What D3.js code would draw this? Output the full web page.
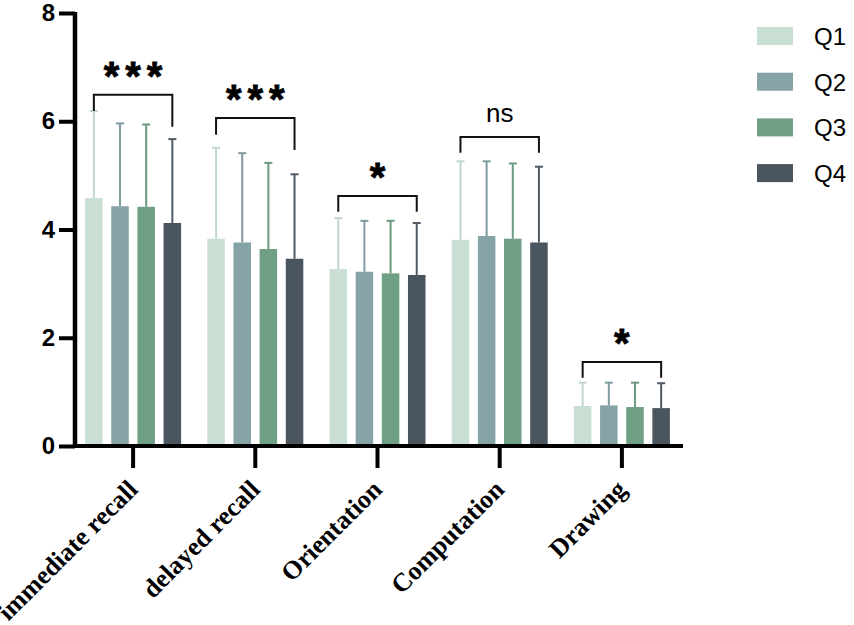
<html>
<head>
<script src="https://d3js.org/d3.v7.min.js"></script>
<style>
body { margin: 0; background: #fff; }
</style>
</head>
<body>
<svg width="854" height="625"></svg>
<script>
// data
var categories = ["immediate recall", "delayed recall", "Orientation", "Computation", "Drawing"];
var groups = ["Q1", "Q2", "Q3", "Q4"];
var means = {
  Q1: [4.58, 3.83, 3.27, 3.81, 0.74],
  Q2: [4.43, 3.76, 3.22, 3.88, 0.75],
  Q3: [4.42, 3.64, 3.19, 3.83, 0.72],
  Q4: [4.12, 3.46, 3.16, 3.76, 0.70]
};
var sds = {
  Q1: [1.61, 1.68, 0.94, 1.45, 0.43],
  Q2: [1.53, 1.65, 0.94, 1.38, 0.42],
  Q3: [1.52, 1.59, 0.97, 1.39, 0.45],
  Q4: [1.55, 1.56, 0.96, 1.40, 0.46]
};
var sigLabels = ["***", "***", "*", "ns", "*"];
// bracket height and leg ends (data units)
var bracketTop = [6.49, 6.06, 4.62, 5.71, 1.55];
var bracketLeft = [6.19, 5.75, 4.33, 5.42, 1.26];
var bracketRight = [5.90, 5.47, 4.33, 5.42, 1.26];
var yTicks = [0, 2, 4, 6, 8];

var colors = {Q1: "#cadfd3", Q2: "#86a3a8", Q3: "#6fa086", Q4: "#4a5560"};
var errColors = {Q1: "#c3d8cc", Q2: "#7f9ba0", Q3: "#6a9a80", Q4: "#505a64"};

var svg = d3.select("svg");

var x = d3.scaleBand().domain(categories).range([72, 683]).padding(0);
var xs = d3.scaleBand().domain(groups).range([-48, 48]).paddingInner(0.33).paddingOuter(0);
var y = d3.scaleLinear().domain([0, 8]).range([446, 13]);

var rows = [];
categories.forEach(function(c, i) {
  groups.forEach(function(g) {
    rows.push({cat: c, g: g, v: means[g][i], sd: sds[g][i]});
  });
});

function cx(d) { return x(d.cat) + x.bandwidth() / 2 + xs(d.g); }

// bars
svg.append("g").selectAll("rect").data(rows).enter().append("rect")
  .attr("x", function(d) { return cx(d); })
  .attr("width", xs.bandwidth())
  .attr("y", function(d) { return y(d.v); })
  .attr("height", function(d) { return y(0) - y(d.v); })
  .attr("fill", function(d) { return colors[d.g]; });

// error bars (upper only)
var eb = svg.append("g").selectAll("g").data(rows).enter().append("g")
  .attr("stroke", function(d) { return errColors[d.g]; })
  .attr("stroke-width", 2);
eb.append("line")
  .attr("x1", function(d) { return cx(d) + xs.bandwidth() / 2; })
  .attr("x2", function(d) { return cx(d) + xs.bandwidth() / 2; })
  .attr("y1", function(d) { return y(d.v); })
  .attr("y2", function(d) { return y(d.v + d.sd); });
eb.append("line")
  .attr("x1", function(d) { return cx(d) + xs.bandwidth() / 2 - 4; })
  .attr("x2", function(d) { return cx(d) + xs.bandwidth() / 2 + 4; })
  .attr("y1", function(d) { return y(d.v + d.sd); })
  .attr("y2", function(d) { return y(d.v + d.sd); });

// significance brackets
var br = svg.append("g").selectAll("g").data(categories).enter().append("g");
br.append("path")
  .attr("fill", "none")
  .attr("stroke", "#111")
  .attr("stroke-width", 2)
  .attr("d", function(c, i) {
    var x1 = x(c) + x.bandwidth() / 2 + xs("Q1") + xs.bandwidth() / 2;
    var x2 = x(c) + x.bandwidth() / 2 + xs("Q4") + xs.bandwidth() / 2;
    return "M" + x1 + "," + y(bracketLeft[i]) + "V" + y(bracketTop[i]) +
           "H" + x2 + "V" + y(bracketRight[i]);
  });
br.append("text")
  .attr("x", function(c, i) { return x(c) + x.bandwidth() / 2 + (sigLabels[i] == "ns" ? 0 : 3); })
  .attr("y", function(c, i) { return y(bracketTop[i]) - (sigLabels[i] == "ns" ? 15 : 5); })
  .attr("text-anchor", "middle")
  .style("font-family", "Arial, 'Liberation Sans', sans-serif")
  .style("font-weight", function(c, i) { return sigLabels[i] == "ns" ? "normal" : "bold"; })
  .style("font-size", function(c, i) { return sigLabels[i] == "ns" ? "26px" : "40px"; })
  .style("letter-spacing", function(c, i) { return sigLabels[i] == "ns" ? "0px" : "6px"; })
  .style("stroke", function(c, i) { return sigLabels[i] == "ns" ? "none" : "#000"; })
  .style("stroke-width", 0.8)
  .text(function(c, i) { return sigLabels[i]; });

// y axis
var yAxis = svg.append("g")
  .attr("transform", "translate(75,0)")
  .call(d3.axisLeft(y).tickValues(yTicks).tickSize(16).tickPadding(4));
yAxis.select(".domain").attr("stroke-width", 4.5).attr("d", "M0," + (y(8) - 1) + "V" + (y(0) + 2));
yAxis.selectAll(".tick line").attr("stroke-width", 4);
yAxis.selectAll(".tick text")
  .style("font-family", "Arial, 'Liberation Sans', sans-serif")
  .style("font-weight", "bold")
  .style("font-size", "24px")
  .attr("fill", "#000");

// x axis
var xAxis = svg.append("g")
  .attr("transform", "translate(0," + y(0) + ")")
  .call(d3.axisBottom(x).tickSize(22).tickFormat(""));
xAxis.select(".domain").attr("stroke-width", 4).attr("d", "M73,0H683");
xAxis.selectAll(".tick line").attr("stroke-width", 4);

svg.append("g").selectAll("text").data(categories).enter().append("text")
  .attr("transform", function(c) {
    return "translate(" + (x(c) + x.bandwidth() / 2 + 6) + ",491) rotate(-45)";
  })
  .attr("text-anchor", "end")
  .style("font-family", "'Liberation Serif', 'Times New Roman', serif")
  .style("font-weight", "bold")
  .style("font-size", "26px")
  .text(function(c) { return c; });

// legend
var lg = svg.append("g").selectAll("g").data(groups).enter().append("g")
  .attr("transform", function(g, i) { return "translate(757," + (27 + i * 45.7) + ")"; });
lg.append("rect").attr("width", 36).attr("height", 18)
  .attr("fill", function(g) { return colors[g]; });
lg.append("text")
  .attr("x", 57).attr("y", 18)
  .style("font-family", "Arial, 'Liberation Sans', sans-serif")
  .style("font-size", "24px")
  .text(function(g) { return g; });
</script>
</body>
</html>
